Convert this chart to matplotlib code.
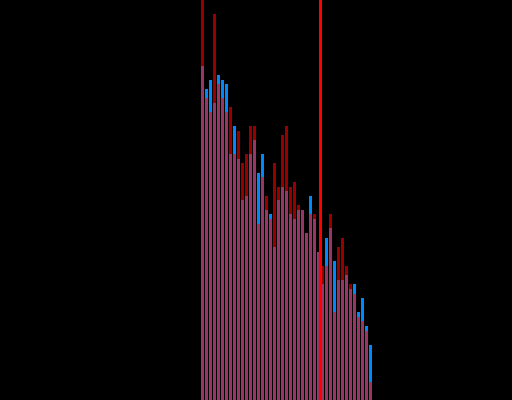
import numpy as np
import matplotlib
matplotlib.use("Agg")
import matplotlib.pyplot as plt

# ── Data ─────────────────────────────────────────────────────────────────────
bins = np.arange(43)

blue_counts = [334, 311, 320, 297, 325, 320, 316, 246, 274, 241, 200,
               204, 246, 260, 227, 246, 190, 186, 153, 200, 213, 209,
               186, 181, 190, 190, 167, 204, 181, 148, 116, 162, 172,
               139, 120, 120, 125, 111, 116, 88, 102, 74, 55]

red_counts = [430, 302, 288, 386, 316, 302, 288, 293, 246, 269, 237,
              246, 274, 274, 176, 223, 204, 181, 237, 213, 265, 274,
              213, 218, 195, 190, 167, 186, 186, 148, 134, 134, 186,
              88, 153, 162, 134, 116, 106, 83, 79, 69, 18]

marker_x = 29.8

# ── Plot ─────────────────────────────────────────────────────────────────────
fig = plt.figure(figsize=(5.12, 4.0), dpi=100, facecolor="black")
ax = fig.add_axes([0, 0, 1, 1])
ax.set_facecolor("black")

ax.bar(bins, blue_counts, width=0.75, align="edge",
       color="#0088ff", linewidth=0)
ax.bar(bins, red_counts, width=0.75, align="edge",
       color="#ff0000", alpha=0.6, linewidth=0)
ax.axvline(marker_x, color="#ff0000", linewidth=1.0, antialiased=False)

ax.set_xlim(-50.25, 77.75)
ax.set_ylim(0, 400)
ax.axis("off")

fig.savefig("out.png", dpi=100, facecolor="black")
